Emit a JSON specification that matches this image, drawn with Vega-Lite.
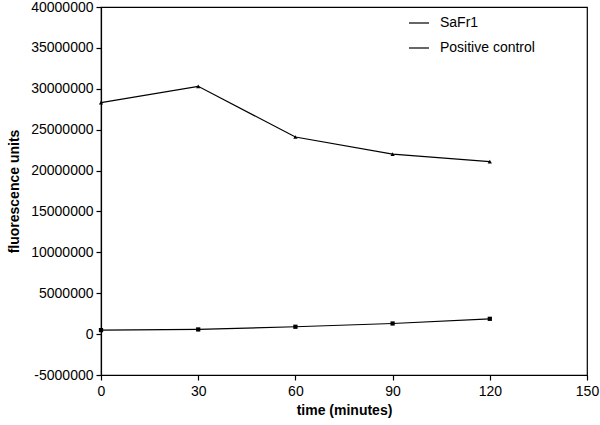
{
  "$schema": "https://vega.github.io/schema/vega-lite/v6.json",
  "width": 486,
  "height": 368,
  "autosize": "none",
  "padding": {"left": 101, "top": 7, "right": 13, "bottom": 50},
  "background": "white",
  "config": {
    "font": "Liberation Sans",
    "view": {"stroke": "black", "strokeWidth": 1.2},
    "axis": {"grid": false, "domainColor": "black", "tickColor": "black", "labelColor": "black", "titleColor": "black", "labelFont": "Liberation Sans", "titleFont": "Liberation Sans", "labelFontSize": 14, "titleFontSize": 14, "titleFontWeight": "bold", "tickSize": 5, "domainWidth": 1.2, "tickWidth": 1.2, "labelFlush": false}
  },
  "data": {
    "values": [
      {"time": 0, "series": "SaFr1", "value": 490000},
      {"time": 30, "series": "SaFr1", "value": 570000},
      {"time": 60, "series": "SaFr1", "value": 900000},
      {"time": 90, "series": "SaFr1", "value": 1300000},
      {"time": 120, "series": "SaFr1", "value": 1870000},
      {"time": 0, "series": "Positive control", "value": 28300000},
      {"time": 30, "series": "Positive control", "value": 30300000},
      {"time": 60, "series": "Positive control", "value": 24100000},
      {"time": 90, "series": "Positive control", "value": 22000000},
      {"time": 120, "series": "Positive control", "value": 21100000}
    ]
  },
  "encoding": {
    "x": {"field": "time", "type": "quantitative", "scale": {"domain": [0, 150], "nice": false, "zero": false}, "axis": {"values": [0, 30, 60, 90, 120, 150], "title": "time (minutes)", "titlePadding": 5, "labelPadding": 4}},
    "y": {"field": "value", "type": "quantitative", "scale": {"domain": [-5000000, 40000000], "nice": false, "zero": false}, "axis": {"values": [-5000000, 0, 5000000, 10000000, 15000000, 20000000, 25000000, 30000000, 35000000, 40000000], "labelExpr": "'' + datum.value", "title": "fluorescence units", "titlePadding": 9, "labelPadding": 3}}
  },
  "layer": [
    {
      "mark": {"type": "line", "strokeWidth": 1.2},
      "encoding": {
        "color": {"field": "series", "type": "nominal", "sort": ["SaFr1", "Positive control"], "scale": {"range": ["black", "black"]},
          "legend": {"title": null, "orient": "none", "legendX": 307, "legendY": 5, "symbolType": "stroke", "symbolSize": 400, "symbolStrokeWidth": 1.2, "labelFontSize": 14, "labelColor": "black", "labelFont": "Liberation Sans", "rowPadding": 7, "labelOffset": 10}}
      }
    },
    {
      "mark": {"type": "point", "filled": true, "size": 18, "opacity": 1},
      "encoding": {
        "color": {"field": "series", "type": "nominal", "sort": ["SaFr1", "Positive control"], "legend": null},
        "shape": {"field": "series", "type": "nominal", "sort": ["SaFr1", "Positive control"], "scale": {"range": ["square", "triangle-up"]}, "legend": null}
      }
    }
  ]
}
